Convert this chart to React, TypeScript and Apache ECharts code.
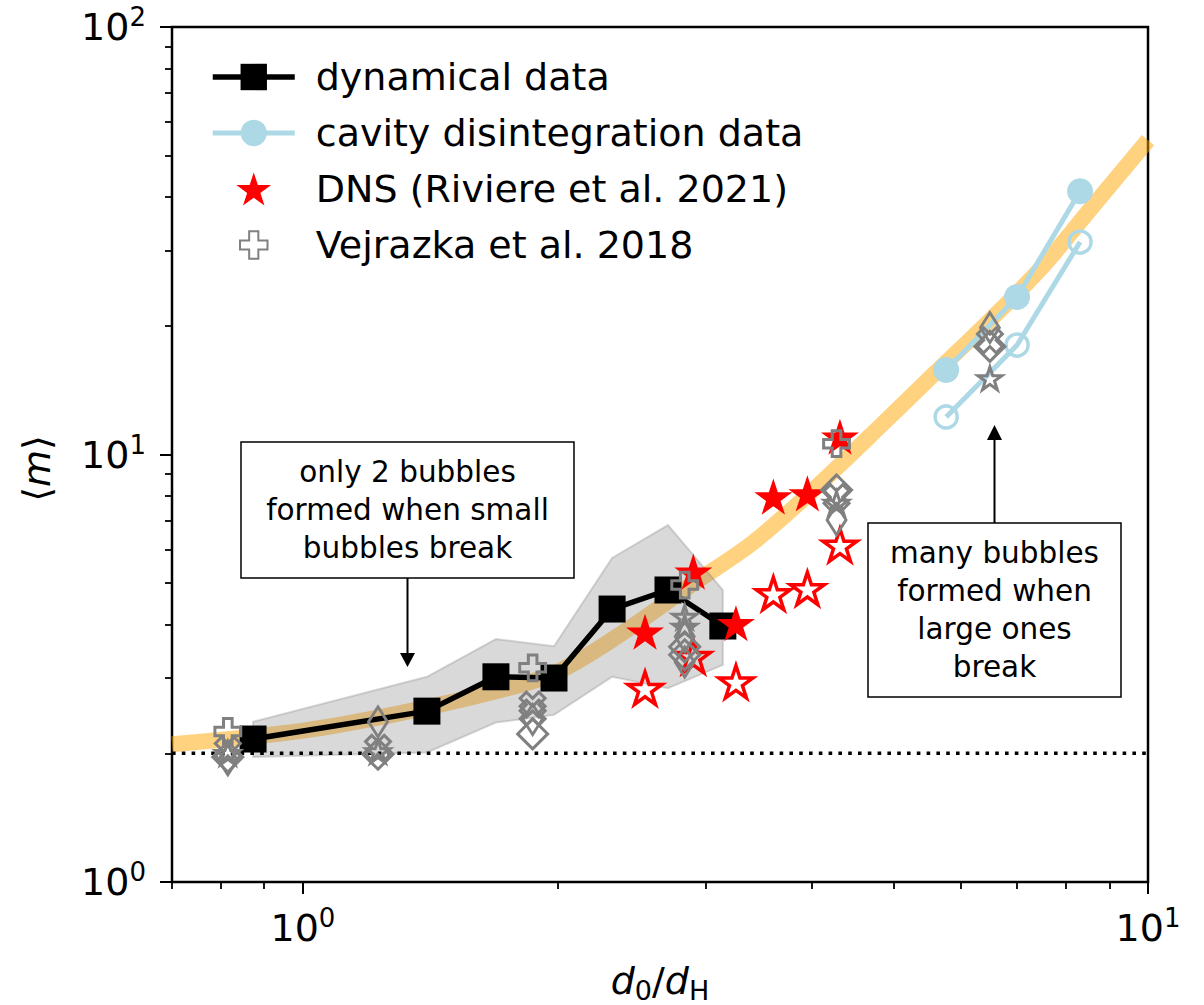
import React, { useEffect, useRef } from 'react';
import * as echarts from 'echarts';

// ---- data (raw units: d0/dH on x, <m> on y) ----
// fitted trend band
const fitX = [0.7, 1.0, 1.3, 1.7, 2.0, 2.4, 2.9, 3.4, 4.0, 4.7, 5.5, 6.5, 7.5, 8.5, 10];
const fitY = [2.10, 2.26, 2.48, 2.80, 3.10, 3.85, 5.0, 6.2, 8.2, 11.1, 15.0, 20.6, 27.5, 37.0, 54.4];

// dynamical data with its spread
const dynX = [0.873, 1.402, 1.692, 1.982, 2.322, 2.704, 3.14];
const dynY = [2.16, 2.51, 3.02, 3.00, 4.35, 4.82, 3.97];
const bandUpper = [2.37, 3.02, 3.70, 3.56, 5.73, 6.84, 4.82];
const bandLower = [1.96, 2.01, 2.36, 2.46, 3.02, 2.84, 3.22];

// cavity disintegration data
const cavX = [5.77, 7.0, 8.31];
const cavFilledY = [15.76, 23.35, 41.3];
const cavOpenY = [12.24, 18.03, 31.4];

// DNS (Riviere et al. 2021)
const dnsX = [2.54, 2.897, 3.254, 3.603, 3.953, 4.32];
const dnsFilledY = [3.85, 5.32, 4.03, 7.97, 8.11, 11.0];
const dnsOpenY = [2.84, 3.37, 2.94, 4.73, 4.86, 6.14];

// Vejrazka et al. 2018, one list per marker shape
const vejPlusX = [0.815, 1.87, 2.83, 4.28];
const vejPlusY = [2.25, 3.17, 4.95, 10.6];
const vejDiamondX = [0.815, 1.227, 1.87, 2.83, 2.83, 4.28, 6.5];
const vejDiamondY = [1.96, 1.99, 2.22, 3.55, 3.40, 8.26, 17.9];
const vejThinX = [0.815, 1.227, 1.87, 2.83, 2.83, 4.28, 6.5];
const vejThinY = [1.93, 2.37, 2.40, 3.75, 3.27, 7.03, 19.8];
const vejCrossX = [0.815, 1.227, 1.87, 1.87, 4.28, 6.5];
const vejCrossY = [2.04, 2.06, 2.60, 2.49, 7.95, 18.5];
const vejStarX = [0.815, 1.227, 2.83, 2.83, 4.28, 6.5];
const vejStarY = [2.00, 2.02, 4.17, 3.95, 7.70, 15.07];

// reference level <m> = 2
const refX = [0.7, 10];
const refY = [2, 2];

// axes
const xRange = [0.7, 10];
const yRange = [1, 100];
const xMajor = [1, 10];
const yMajor = [1, 10, 100];
const xMinor = [0.7, 0.8, 0.9, 2, 3, 4, 5, 6, 7, 8, 9];
const yMinor = [2, 3, 4, 5, 6, 7, 8, 9, 20, 30, 40, 50, 60, 70, 80, 90];

const legendNames = [
  'dynamical data',
  'cavity disintegration data',
  'DNS (Riviere et al. 2021)',
  'Vejrazka et al. 2018',
];

const FONT = 'DejaVu Sans';
const GREY = '#808080';
const LIGHTBLUE = '#ADD8E6';

const lg = Math.log10;
const pairs = (xs: number[], ys: number[]) => xs.map((x, i) => [lg(x), lg(ys[i])]);

// marker outlines
function starPath(inner = 0.381966) {
  const pts: string[] = [];
  for (let k = 0; k < 10; k++) {
    const a = ((-90 + k * 36) * Math.PI) / 180;
    const r = k % 2 === 0 ? 1 : inner;
    pts.push(`${(r * Math.cos(a)).toFixed(4)},${(r * Math.sin(a)).toFixed(4)}`);
  }
  return 'path://M' + pts.join('L') + 'Z';
}
const plusPts: [number, number][] = [
  [-0.5, -1.5], [0.5, -1.5], [0.5, -0.5], [1.5, -0.5], [1.5, 0.5], [0.5, 0.5],
  [0.5, 1.5], [-0.5, 1.5], [-0.5, 0.5], [-1.5, 0.5], [-1.5, -0.5], [-0.5, -0.5],
];
function polyPath(pts: [number, number][], rot: number, pad: number) {
  const c = Math.cos(rot), s = Math.sin(rot);
  const p = pts.map(([x, y]) => [x * c - y * s, x * s + y * c]);
  let d = '';
  if (pad > 0) d += `M${-1.5 - pad},${-1.5 - pad}M${1.5 + pad},${1.5 + pad}`;
  d += 'M' + p.map(([x, y]) => `${x.toFixed(4)},${y.toFixed(4)}`).join('L') + 'Z';
  return 'path://' + d;
}
const STAR = starPath();
const PLUS = polyPath(plusPts, 0, 0.3);
const CROSS = polyPath(plusPts, Math.PI / 4, 0);

const hollow = (color: string, w: number) => ({ color: 'transparent', borderColor: color, borderWidth: w, opacity: 1 });

export default function App() {
  const ref = useRef<HTMLDivElement>(null);

  useEffect(() => {
    document.body.style.margin = '0';
    if (!ref.current) return;
    const chart = echarts.init(ref.current, undefined, { renderer: 'svg' });

    const supRich = {
      b: { fontFamily: FONT, fontSize: 38, lineHeight: 46, color: '#000' },
      s: { fontFamily: FONT, fontSize: 26, lineHeight: 26, verticalAlign: 'top', color: '#000' },
    };
    const powLabel = (v: number) => `{b|10}{s|${Math.round(v)}}`;

    const option: any = {
      animation: false,
      textStyle: { fontFamily: FONT },
      grid: {
        left: 172, right: 56, top: 27, bottom: 123,
        containLabel: false,
        outerBoundsMode: 'none',
        show: true, borderColor: '#000', borderWidth: 2.5, backgroundColor: 'transparent',
      },
      xAxis: [
        {
          type: 'value', position: 'bottom', min: lg(xRange[0]), max: lg(xRange[1]),
          axisLine: { show: false, onZero: false },
          splitLine: { show: false },
          axisTick: { show: true, customValues: xMajor.map(lg), length: 12, lineStyle: { color: '#000', width: 2 } },
          axisLabel: { customValues: xMajor.map(lg), margin: 23, formatter: powLabel, rich: supRich },
          name: '{i|d}{s|0}{n|/}{i|d}{s|H}',
          nameLocation: 'middle',
          nameGap: 76,
          nameTextStyle: {
            rich: {
              i: { fontFamily: FONT, fontStyle: 'italic', fontSize: 38, lineHeight: 46, color: '#000' },
              n: { fontFamily: FONT, fontSize: 38, lineHeight: 46, color: '#000' },
              s: { fontFamily: FONT, fontSize: 27, lineHeight: 27, verticalAlign: 'bottom', color: '#000' },
            },
          },
        },
        {
          type: 'value', position: 'bottom', offset: 0, min: lg(xRange[0]), max: lg(xRange[1]),
          axisLine: { show: false, onZero: false },
          splitLine: { show: false },
          axisLabel: { show: false },
          axisTick: { show: true, customValues: xMinor.map(lg), length: 7, lineStyle: { color: '#000', width: 1.8 } },
        },
      ],
      yAxis: [
        {
          type: 'value', position: 'left', min: lg(yRange[0]), max: lg(yRange[1]),
          axisLine: { show: false, onZero: false },
          splitLine: { show: false },
          axisTick: { show: true, customValues: yMajor.map(lg), length: 12, lineStyle: { color: '#000', width: 2 } },
          axisLabel: { customValues: yMajor.map(lg), margin: 26, formatter: powLabel, rich: supRich },
          name: '{n|⟨}{i|m}{n|⟩}',
          nameLocation: 'middle',
          nameGap: 112,
          nameTextStyle: {
            padding: [0, 28, 0, 0],
            rich: {
              i: { fontFamily: FONT, fontStyle: 'italic', fontSize: 38, lineHeight: 46, color: '#000' },
              n: { fontFamily: FONT, fontSize: 38, lineHeight: 46, color: '#000' },
            },
          },
        },
        {
          type: 'value', position: 'left', offset: 0, min: lg(yRange[0]), max: lg(yRange[1]),
          axisLine: { show: false, onZero: false },
          splitLine: { show: false },
          axisLabel: { show: false },
          axisTick: { show: true, customValues: yMinor.map(lg), length: 7, lineStyle: { color: '#000', width: 1.8 } },
        },
      ],
      legend: {
        data: legendNames,
        orient: 'vertical',
        left: 205,
        top: 50,
        itemWidth: 82,
        itemHeight: 33,
        itemGap: 12,
        selectedMode: false,
        lineStyle: { width: 'inherit' },
        textStyle: { fontFamily: FONT, fontSize: 38, color: '#000', lineHeight: 44, padding: [0, 0, 0, 16] },
      },
      series: [
        {
          name: 'trend',
          type: 'line',
          data: pairs(fitX, fitY),
          smooth: 0.35,
          symbol: 'none',
          lineStyle: { color: 'rgba(255,165,0,0.5)', width: 16 },
          z: 1,
          silent: true,
        },
        {
          name: 'spread',
          type: 'custom',
          coordinateSystem: 'cartesian2d',
          data: [[lg(dynX[0]), lg(bandLower[0])]],
          renderItem: (_params: any, api: any) => {
            const pts: number[][] = [];
            dynX.forEach((x, i) => pts.push(api.coord([lg(x), lg(bandUpper[i])])));
            for (let i = dynX.length - 1; i >= 0; i--) pts.push(api.coord([lg(dynX[i]), lg(bandLower[i])]));
            return {
              type: 'polygon',
              shape: { points: pts },
              style: { fill: 'rgba(128,128,128,0.3)', stroke: 'rgba(128,128,128,0.3)', lineWidth: 2 },
            };
          },
          z: 2,
          silent: true,
        },
        {
          name: 'm = 2',
          type: 'line',
          data: pairs(refX, refY),
          symbol: 'none',
          lineStyle: { color: '#000', width: 3.5, type: [3.6, 6.2] },
          z: 2,
          silent: true,
        },
        {
          name: legendNames[0],
          type: 'line',
          data: pairs(dynX, dynY),
          symbol: 'rect',
          symbolSize: 27,
          itemStyle: { color: '#000' },
          lineStyle: { color: '#000', width: 5.5 },
          z: 3,
        },
        {
          name: legendNames[1],
          type: 'line',
          data: pairs(cavX, cavFilledY),
          symbol: 'circle',
          symbolSize: 26,
          itemStyle: { color: LIGHTBLUE },
          lineStyle: { color: LIGHTBLUE, width: 5 },
          z: 4,
        },
        {
          name: 'cavity (open)',
          type: 'line',
          data: pairs(cavX, cavOpenY),
          symbol: 'circle',
          symbolSize: 22,
          itemStyle: hollow(LIGHTBLUE, 3.5),
          lineStyle: { color: LIGHTBLUE, width: 5 },
          z: 4,
        },
        {
          name: legendNames[2],
          type: 'scatter',
          data: pairs(dnsX, dnsFilledY),
          symbol: STAR,
          symbolSize: 38,
          symbolKeepAspect: true,
          itemStyle: { color: '#ff0000', opacity: 1 },
          z: 5,
        },
        {
          name: 'DNS (open)',
          type: 'scatter',
          data: pairs(dnsX, dnsOpenY),
          symbol: STAR,
          symbolSize: 34,
          symbolKeepAspect: true,
          itemStyle: hollow('#ff0000', 3.5),
          z: 5,
        },
        {
          name: legendNames[3],
          type: 'scatter',
          data: pairs(vejPlusX, vejPlusY),
          symbol: PLUS,
          symbolSize: 31,
          symbolKeepAspect: true,
          itemStyle: hollow(GREY, 3),
          z: 6,
        },
        {
          name: 'Vejrazka D',
          type: 'scatter',
          data: pairs(vejDiamondX, vejDiamondY),
          symbol: 'diamond',
          symbolSize: 30,
          itemStyle: hollow(GREY, 3),
          z: 6,
        },
        {
          name: 'Vejrazka d',
          type: 'scatter',
          data: pairs(vejThinX, vejThinY),
          symbol: 'diamond',
          symbolSize: [19, 30],
          itemStyle: hollow(GREY, 3),
          z: 6,
        },
        {
          name: 'Vejrazka X',
          type: 'scatter',
          data: pairs(vejCrossX, vejCrossY),
          symbol: CROSS,
          symbolSize: 25,
          symbolKeepAspect: true,
          itemStyle: hollow(GREY, 3),
          z: 6,
        },
        {
          name: 'Vejrazka star',
          type: 'scatter',
          data: pairs(vejStarX, vejStarY),
          symbol: STAR,
          symbolSize: 24,
          symbolKeepAspect: true,
          itemStyle: hollow(GREY, 3),
          z: 6,
        },
      ],
      graphic: [
        {
          type: 'group',
          z: 100,
          children: [
            { type: 'rect', shape: { x: 241, y: 442, width: 333, height: 136 }, style: { fill: '#fff', stroke: '#000', lineWidth: 1.5 } },
            {
              type: 'text', x: 407.5, y: 510,
              style: {
                text: 'only 2 bubbles\nformed when small\nbubbles break',
                fontFamily: FONT, fontSize: 29.5, lineHeight: 38, fill: '#000', align: 'center', verticalAlign: 'middle',
              },
            },
            { type: 'line', shape: { x1: 407.5, y1: 578, x2: 407.5, y2: 654 }, style: { stroke: '#000', lineWidth: 2 } },
            { type: 'polygon', shape: { points: [[400, 653], [415, 653], [407.5, 667]] }, style: { fill: '#000' } },

            { type: 'rect', shape: { x: 868, y: 523, width: 253, height: 174 }, style: { fill: '#fff', stroke: '#000', lineWidth: 1.5 } },
            {
              type: 'text', x: 994.5, y: 610,
              style: {
                text: 'many bubbles\nformed when\nlarge ones\nbreak',
                fontFamily: FONT, fontSize: 29.5, lineHeight: 38, fill: '#000', align: 'center', verticalAlign: 'middle',
              },
            },
            { type: 'line', shape: { x1: 994.5, y1: 523, x2: 994.5, y2: 439 }, style: { stroke: '#000', lineWidth: 2 } },
            { type: 'polygon', shape: { points: [[987, 440], [1002, 440], [994.5, 425]] }, style: { fill: '#000' } },
          ],
        },
      ],
    };

    chart.setOption(option);
    return () => chart.dispose();
  }, []);

  return <div ref={ref} style={{ width: 1204, height: 1005 }} />;
}
